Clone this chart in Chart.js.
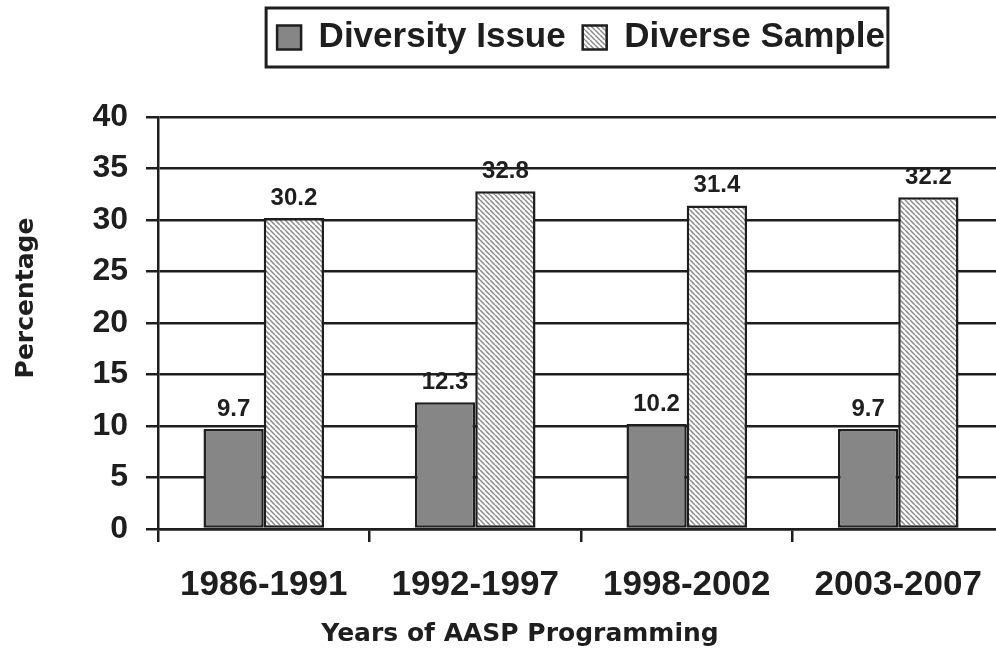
<!DOCTYPE html>
<html>
<head>
<meta charset="utf-8">
<script src="https://cdn.jsdelivr.net/npm/chart.js@4/dist/chart.umd.min.js"></script>
<style>
  html, body { margin: 0; padding: 0; background: #fff; overflow: hidden; width: 996px; height: 651px; }
  #wrap { width: 1004px; height: 651px; }
  canvas { display: block; }
</style>
</head>
<body>
<div id="wrap"><canvas id="chart" width="1004" height="651"></canvas></div>
<script>
// Program periods and the share of work (%) in each
const periods = ['1986-1991', '1992-1997', '1998-2002', '2003-2007'];
const diversityIssue = [9.7, 12.3, 10.2, 9.7];
const diverseSample = [30.2, 32.8, 31.4, 32.2];
const percentTicks = [0, 5, 10, 15, 20, 25, 30, 35, 40];

const INK = '#1e1e1e';
const SANS = '"Liberation Sans", Arial, Helvetica, sans-serif';
const WIDE = '"DejaVu Sans", Verdana, sans-serif';

// Diagonal "\\\" hatch used for the second series
function makeHatch() {
  const s = 5;
  const c = document.createElement('canvas');
  c.width = s; c.height = s;
  const g = c.getContext('2d');
  g.fillStyle = '#ffffff';
  g.fillRect(0, 0, s, s);
  g.strokeStyle = '#8a8a8a';
  g.lineWidth = 1.5;
  g.beginPath();
  for (let k = -1; k <= 1; k++) {
    g.moveTo(k * s, 0);
    g.lineTo(k * s + s, s);
  }
  g.stroke();
  return g.createPattern(c, 'repeat');
}

// Value printed above each bar
const valueLabels = {
  id: 'valueLabels',
  afterDatasetsDraw(chart) {
    const ctx = chart.ctx;
    ctx.save();
    ctx.font = 'bold 24px ' + SANS;
    ctx.fillStyle = INK;
    ctx.textAlign = 'center';
    ctx.textBaseline = 'bottom';
    chart.data.datasets.forEach((ds, i) => {
      chart.getDatasetMeta(i).data.forEach((bar, j) => {
        ctx.fillText(ds.data[j].toFixed(1), bar.x, bar.y - 8);
      });
    });
    ctx.restore();
  }
};

// Legend: centred over the plot, extra room below it, framed by a box
const legendLayout = {
  id: 'legendLayout',
  beforeInit(chart) {
    const lg = chart.legend;
    const fit = lg.fit;
    lg.fit = function () {
      fit.call(this);
      this.height += 52;
    };
  },
  afterLayout(chart) {
    const lg = chart.legend;
    lg.left = chart.chartArea.left;
    lg.right = chart.chartArea.right;
  },
  afterDraw(chart) {
    const boxes = chart.legend.legendHitBoxes;
    if (!boxes || !boxes.length) return;
    const left = Math.min(...boxes.map(b => b.left)) - 11;
    const right = Math.max(...boxes.map(b => b.left + b.width)) + 3;
    const mid = boxes[0].top + boxes[0].height / 2;
    const ctx = chart.ctx;
    ctx.save();
    ctx.strokeStyle = INK;
    ctx.lineWidth = 3;
    ctx.strokeRect(left, mid - 29.5, right - left, 59);
    ctx.restore();
  }
};

// Axis titles
const axisTitles = {
  id: 'axisTitles',
  afterDraw(chart) {
    const { ctx, chartArea } = chart;
    ctx.save();
    ctx.fillStyle = INK;
    ctx.font = 'bold 25px ' + WIDE;
    ctx.textAlign = 'center';
    ctx.textBaseline = 'middle';
    ctx.fillText('Years of AASP Programming', (chartArea.left + chartArea.right) / 2 - 61, chart.height - 17);
    ctx.translate(chart.scales.y.left + 26, (chartArea.top + chartArea.bottom) / 2 - 25);
    ctx.rotate(-Math.PI / 2);
    ctx.fillText('Percentage', 0, 0);
    ctx.restore();
  }
};

new Chart(document.getElementById('chart'), {
  type: 'bar',
  data: {
    labels: periods,
    datasets: [
      {
        label: 'Diversity Issue',
        data: diversityIssue,
        backgroundColor: '#868686',
        borderColor: INK,
        borderWidth: 2.5,
        borderSkipped: false
      },
      {
        label: 'Diverse Sample',
        data: diverseSample,
        backgroundColor: makeHatch(),
        borderColor: INK,
        borderWidth: 2.5,
        borderSkipped: false
      }
    ]
  },
  options: {
    responsive: false,
    animation: false,
    events: [],
    categoryPercentage: 0.57,
    barPercentage: 1.0,
    layout: { padding: { top: 3, left: 0, right: 0, bottom: 23 } },
    plugins: {
      tooltip: { enabled: false },
      legend: {
        position: 'top',
        labels: {
          boxWidth: 24,
          boxHeight: 24,
          padding: 17,
          color: INK,
          font: { family: SANS, size: 35, weight: 'bold' }
        }
      }
    },
    scales: {
      x: {
        grid: {
          display: true,
          drawOnChartArea: false,
          drawTicks: true,
          tickLength: 13,
          color: INK,
          lineWidth: 2.5,
          offset: true
        },
        border: { display: true, color: INK, width: 2.5 },
        ticks: {
          color: INK,
          padding: 22,
          maxRotation: 0,
          autoSkip: false,
          font: { family: SANS, size: 35, weight: 'bold' }
        }
      },
      y: {
        min: 0,
        max: 40,
        afterBuildTicks(scale) {
          scale.ticks = percentTicks.map(v => ({ value: v }));
        },
        afterFit(scale) {
          scale.width = 158;
        },
        grid: { color: INK, lineWidth: 2.5, tickLength: 12 },
        border: { display: true, color: INK, width: 2.5 },
        ticks: {
          color: INK,
          padding: 18,
          font: { family: SANS, size: 32, weight: 'bold' }
        }
      }
    }
  },
  plugins: [valueLabels, legendLayout, axisTitles]
});
</script>
</body>
</html>
